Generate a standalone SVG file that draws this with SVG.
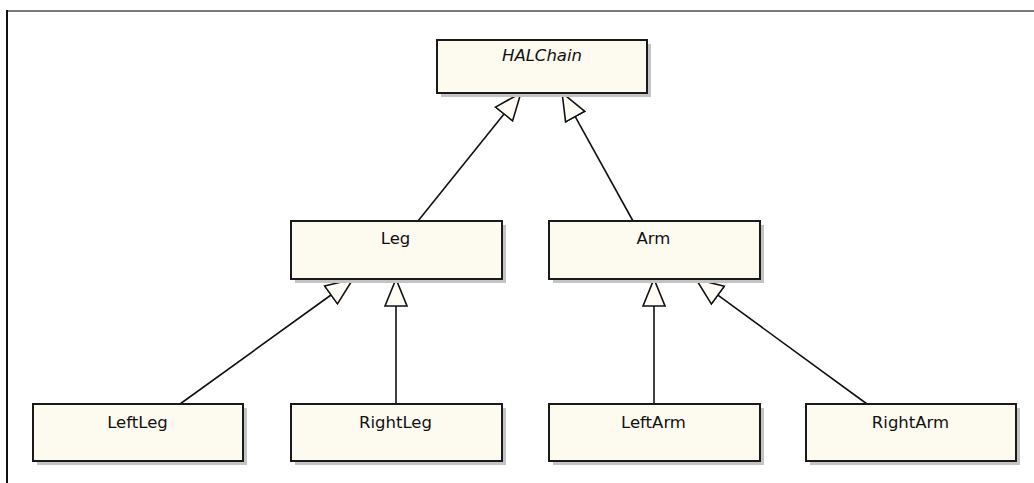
<svg xmlns="http://www.w3.org/2000/svg" width="1034" height="483" viewBox="0 0 1034 483">
  <style>
    .shadow { fill: #c4c4c4; }
    .box { fill: #fdfaef; stroke: #1a1a1a; stroke-width: 2; }
    .label { font-family: "DejaVu Sans", "Liberation Sans", sans-serif; font-size: 16.5px; fill: #111; text-anchor: middle; }
    .abstract { font-style: italic; }
    .edge { stroke: #111; stroke-width: 1.6; fill: none; marker-end: url(#generalization); }
  </style>
  <defs>
    <!-- hollow triangle for inheritance; base sits at the line end, tip points at the parent -->
    <marker id="generalization" markerUnits="userSpaceOnUse" markerWidth="30" markerHeight="26" viewBox="-1 -12 30 24" refX="0" refY="0" orient="auto">
      <path d="M0,-11 L27,0 L0,11 Z" fill="#fffdf6" stroke="#111" stroke-width="1.6" stroke-linejoin="miter"/>
    </marker>
  </defs>

  <rect width="1034" height="483" fill="#ffffff"/>
  <!-- window frame -->
  <line x1="7" y1="11" x2="1034" y2="11" stroke="#7a7a7a" stroke-width="2"/>
  <line x1="7" y1="10" x2="7" y2="483" stroke="#111" stroke-width="2"/>

  <g id="connectors">
    <line class="edge" x1="418" y1="221" x2="504" y2="114"/>
    <line class="edge" x1="633" y1="221" x2="575.2" y2="116.6"/>
    <line class="edge" x1="180" y1="404" x2="331" y2="295"/>
    <line class="edge" x1="396" y1="404" x2="396" y2="306"/>
    <line class="edge" x1="654" y1="404" x2="654" y2="306"/>
    <line class="edge" x1="867" y1="404" x2="717.9" y2="295.2"/>
  </g>

  <g id="HALChain">
    <rect class="shadow" x="441" y="44" width="210" height="53"/>
    <rect class="box" x="437" y="40" width="210" height="53"/>
    <text class="label abstract" x="542" y="61">HALChain</text>
  </g>
  <g id="Leg">
    <rect class="shadow" x="295" y="225" width="211" height="58"/>
    <rect class="box" x="291" y="221" width="211" height="58"/>
    <text class="label" x="395.5" y="244">Leg</text>
  </g>
  <g id="Arm">
    <rect class="shadow" x="553" y="225" width="211" height="58"/>
    <rect class="box" x="549" y="221" width="211" height="58"/>
    <text class="label" x="653.5" y="244">Arm</text>
  </g>
  <g id="LeftLeg">
    <rect class="shadow" x="37" y="408" width="210" height="57"/>
    <rect class="box" x="33" y="404" width="210" height="57"/>
    <text class="label" x="137.5" y="428">LeftLeg</text>
  </g>
  <g id="RightLeg">
    <rect class="shadow" x="295" y="408" width="211" height="57"/>
    <rect class="box" x="291" y="404" width="211" height="57"/>
    <text class="label" x="395.5" y="428">RightLeg</text>
  </g>
  <g id="LeftArm">
    <rect class="shadow" x="553" y="408" width="211" height="57"/>
    <rect class="box" x="549" y="404" width="211" height="57"/>
    <text class="label" x="653.5" y="428">LeftArm</text>
  </g>
  <g id="RightArm">
    <rect class="shadow" x="810" y="408" width="210" height="57"/>
    <rect class="box" x="806" y="404" width="210" height="57"/>
    <text class="label" x="910.5" y="428">RightArm</text>
  </g>
</svg>
